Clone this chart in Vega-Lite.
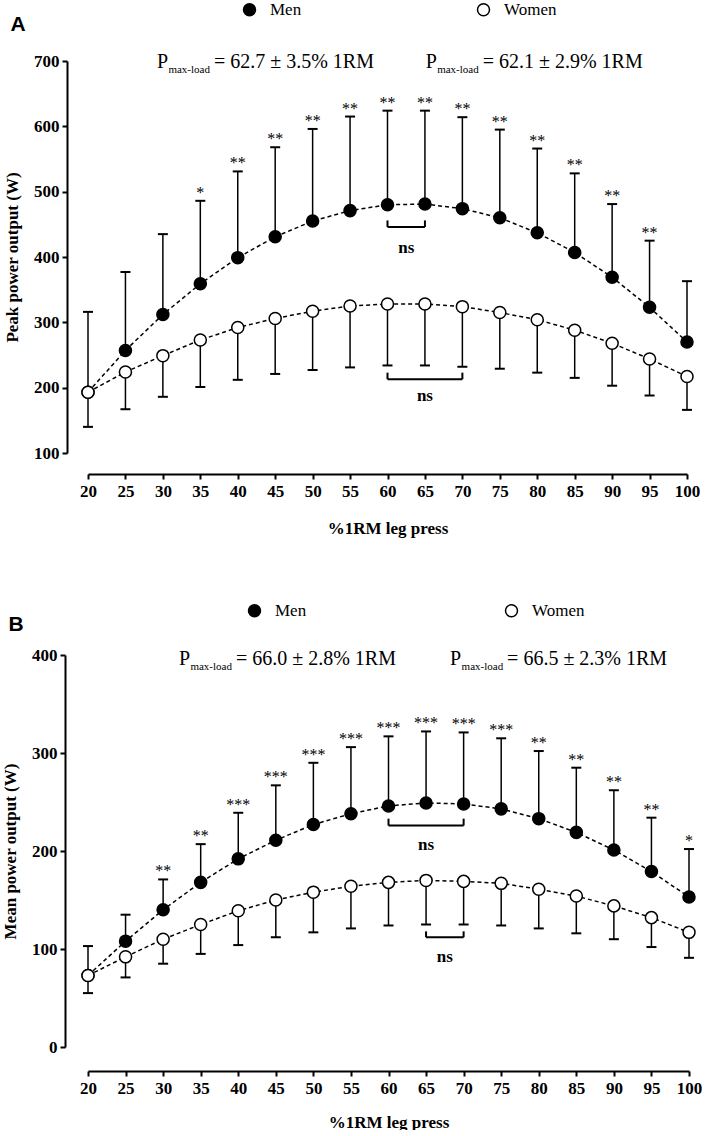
{
  "$schema": "https://vega.github.io/schema/vega-lite/v6.json",
  "padding": {"left": 1, "top": 1, "right": 0, "bottom": 0},
  "spacing": 66,
  "config": {
    "view": {"stroke": null},
    "font": "Liberation Serif",
    "axis": {
      "grid": false,
      "domainColor": "black",
      "domainWidth": 2,
      "tickColor": "black",
      "tickWidth": 2,
      "tickSize": 5,
      "labelFlush": false,
      "labelFont": "Liberation Serif",
      "labelFontSize": 17,
      "labelFontWeight": "bold",
      "labelColor": "black",
      "titleFont": "Liberation Serif",
      "titleFontSize": 17,
      "titleFontWeight": "bold",
      "titleColor": "black"
    },
    "legend": {
      "orient": "none",
      "direction": "horizontal",
      "title": null,
      "padding": 0,
      "labelFont": "Liberation Serif",
      "labelFontSize": 17,
      "labelColor": "black",
      "labelOffset": 12,
      "symbolType": "circle",
      "symbolSize": 144,
      "symbolStrokeColor": "black",
      "symbolStrokeWidth": 1.5
    },
    "title": {"font": "Liberation Sans", "fontSize": 21, "fontWeight": "bold", "color": "black", "anchor": "start", "frame": "bounds"}
  },
  "datasets": {
    "peak": [
      {"sex": "Men", "load": 20, "mean": 193, "cap": 316, "sig": ""},
      {"sex": "Men", "load": 25, "mean": 257, "cap": 377, "sig": ""},
      {"sex": "Men", "load": 30, "mean": 312, "cap": 435, "sig": ""},
      {"sex": "Men", "load": 35, "mean": 359, "cap": 486, "sig": "*"},
      {"sex": "Men", "load": 40, "mean": 399, "cap": 531, "sig": "**"},
      {"sex": "Men", "load": 45, "mean": 431, "cap": 568, "sig": "**"},
      {"sex": "Men", "load": 50, "mean": 455, "cap": 596, "sig": "**"},
      {"sex": "Men", "load": 55, "mean": 471, "cap": 615, "sig": "**"},
      {"sex": "Men", "load": 60, "mean": 480, "cap": 624, "sig": "**"},
      {"sex": "Men", "load": 65, "mean": 481, "cap": 624, "sig": "**"},
      {"sex": "Men", "load": 70, "mean": 474, "cap": 614, "sig": "**"},
      {"sex": "Men", "load": 75, "mean": 460, "cap": 595, "sig": "**"},
      {"sex": "Men", "load": 80, "mean": 437, "cap": 566, "sig": "**"},
      {"sex": "Men", "load": 85, "mean": 407, "cap": 528, "sig": "**"},
      {"sex": "Men", "load": 90, "mean": 369, "cap": 481, "sig": "**"},
      {"sex": "Men", "load": 95, "mean": 323, "cap": 425, "sig": "**"},
      {"sex": "Men", "load": 100, "mean": 270, "cap": 363, "sig": ""},
      {"sex": "Women", "load": 20, "mean": 193, "cap": 140, "sig": ""},
      {"sex": "Women", "load": 25, "mean": 224, "cap": 167, "sig": ""},
      {"sex": "Women", "load": 30, "mean": 249, "cap": 186, "sig": ""},
      {"sex": "Women", "load": 35, "mean": 273, "cap": 201, "sig": ""},
      {"sex": "Women", "load": 40, "mean": 292, "cap": 212, "sig": ""},
      {"sex": "Women", "load": 45, "mean": 306, "cap": 221, "sig": ""},
      {"sex": "Women", "load": 50, "mean": 317, "cap": 227, "sig": ""},
      {"sex": "Women", "load": 55, "mean": 325, "cap": 231, "sig": ""},
      {"sex": "Women", "load": 60, "mean": 328, "cap": 234, "sig": ""},
      {"sex": "Women", "load": 65, "mean": 328, "cap": 234, "sig": ""},
      {"sex": "Women", "load": 70, "mean": 324, "cap": 232, "sig": ""},
      {"sex": "Women", "load": 75, "mean": 315, "cap": 229, "sig": ""},
      {"sex": "Women", "load": 80, "mean": 304, "cap": 223, "sig": ""},
      {"sex": "Women", "load": 85, "mean": 288, "cap": 215, "sig": ""},
      {"sex": "Women", "load": 90, "mean": 268, "cap": 203, "sig": ""},
      {"sex": "Women", "load": 95, "mean": 244, "cap": 188, "sig": ""},
      {"sex": "Women", "load": 100, "mean": 217, "cap": 166, "sig": ""}
    ],
    "meanpow": [
      {"sex": "Men", "load": 20, "mean": 73, "cap": 103, "sig": ""},
      {"sex": "Men", "load": 25, "mean": 108, "cap": 135, "sig": ""},
      {"sex": "Men", "load": 30, "mean": 140, "cap": 171, "sig": "**"},
      {"sex": "Men", "load": 35, "mean": 168, "cap": 207, "sig": "**"},
      {"sex": "Men", "load": 40, "mean": 192, "cap": 239, "sig": "***"},
      {"sex": "Men", "load": 45, "mean": 211, "cap": 267, "sig": "***"},
      {"sex": "Men", "load": 50, "mean": 227, "cap": 290, "sig": "***"},
      {"sex": "Men", "load": 55, "mean": 238, "cap": 306, "sig": "***"},
      {"sex": "Men", "load": 60, "mean": 246, "cap": 317, "sig": "***"},
      {"sex": "Men", "load": 65, "mean": 249, "cap": 322, "sig": "***"},
      {"sex": "Men", "load": 70, "mean": 248, "cap": 321, "sig": "***"},
      {"sex": "Men", "load": 75, "mean": 243, "cap": 315, "sig": "***"},
      {"sex": "Men", "load": 80, "mean": 233, "cap": 302, "sig": "**"},
      {"sex": "Men", "load": 85, "mean": 219, "cap": 285, "sig": "**"},
      {"sex": "Men", "load": 90, "mean": 201, "cap": 262, "sig": "**"},
      {"sex": "Men", "load": 95, "mean": 179, "cap": 234, "sig": "**"},
      {"sex": "Men", "load": 100, "mean": 153, "cap": 202, "sig": "*"},
      {"sex": "Women", "load": 20, "mean": 73, "cap": 55, "sig": ""},
      {"sex": "Women", "load": 25, "mean": 92, "cap": 71, "sig": ""},
      {"sex": "Women", "load": 30, "mean": 110, "cap": 85, "sig": ""},
      {"sex": "Women", "load": 35, "mean": 125, "cap": 95, "sig": ""},
      {"sex": "Women", "load": 40, "mean": 139, "cap": 104, "sig": ""},
      {"sex": "Women", "load": 45, "mean": 150, "cap": 112, "sig": ""},
      {"sex": "Women", "load": 50, "mean": 158, "cap": 117, "sig": ""},
      {"sex": "Women", "load": 55, "mean": 164, "cap": 121, "sig": ""},
      {"sex": "Women", "load": 60, "mean": 168, "cap": 124, "sig": ""},
      {"sex": "Women", "load": 65, "mean": 170, "cap": 125, "sig": ""},
      {"sex": "Women", "load": 70, "mean": 169, "cap": 125, "sig": ""},
      {"sex": "Women", "load": 75, "mean": 167, "cap": 124, "sig": ""},
      {"sex": "Women", "load": 80, "mean": 161, "cap": 121, "sig": ""},
      {"sex": "Women", "load": 85, "mean": 154, "cap": 116, "sig": ""},
      {"sex": "Women", "load": 90, "mean": 144, "cap": 110, "sig": ""},
      {"sex": "Women", "load": 95, "mean": 132, "cap": 102, "sig": ""},
      {"sex": "Women", "load": 100, "mean": 117, "cap": 91, "sig": ""}
    ],
    "nsA": [
      {"sex": "Men", "from": 60, "to": 65, "level": 446, "tip": 456, "mid": 62.5, "labely": 414},
      {"sex": "Women", "from": 60, "to": 70, "level": 213, "tip": 223, "mid": 65, "labely": 187}
    ],
    "nsB": [
      {"sex": "Men", "from": 60, "to": 70, "level": 226, "tip": 233, "mid": 65, "labely": 206},
      {"sex": "Women", "from": 65, "to": 70, "level": 112, "tip": 118, "mid": 67.5, "labely": 92}
    ],
    "pA": [
      {"sex": "Men", "at": 29.2, "line": 690, "eq": "= 62.7 ± 3.5% 1RM"},
      {"sex": "Women", "at": 65.1, "line": 690, "eq": "= 62.1 ± 2.9% 1RM"}
    ],
    "pB": [
      {"sex": "Men", "at": 32.1, "line": 390, "eq": "= 66.0 ± 2.8% 1RM"},
      {"sex": "Women", "at": 68.2, "line": 390, "eq": "= 66.5 ± 2.3% 1RM"}
    ]
  },
  "vconcat": [
    {
      "width": 599,
      "height": 392,
      "title": {"text": "A", "dx": 7, "dy": 38},
      "data": {"name": "peak"},
      "encoding": {
        "x": {"field": "load", "type": "quantitative", "title": "%1RM leg press",
          "scale": {"domain": [20, 100]},
          "axis": {"values": [20, 25, 30, 35, 40, 45, 50, 55, 60, 65, 70, 75, 80, 85, 90, 95, 100], "offset": 21, "labelPadding": 4, "titlePadding": 21}},
        "y": {"field": "mean", "type": "quantitative", "title": "Peak power output (W)",
          "scale": {"domain": [100, 700]},
          "axis": {"values": [100, 200, 300, 400, 500, 600, 700], "offset": 21, "labelPadding": 3, "titlePadding": 12}}
      },
      "layer": [
        {"mark": {"type": "rule", "color": "black", "strokeWidth": 1.5},
          "encoding": {"y2": {"field": "cap"}}},
        {"mark": {"type": "tick", "orient": "horizontal", "color": "black", "size": 10, "thickness": 2, "opacity": 1},
          "encoding": {"y": {"field": "cap", "type": "quantitative", "title": "Peak power output (W)", "scale": {"domain": [100, 700]}}}},
        {"mark": {"type": "line", "color": "black", "strokeWidth": 1.5, "strokeDash": [4, 3]},
          "encoding": {"detail": {"field": "sex"}}},
        {"mark": {"type": "circle", "size": 145, "stroke": "black", "strokeWidth": 1.5, "opacity": 1},
          "encoding": {"fill": {"field": "sex", "type": "nominal",
            "scale": {"domain": ["Men", "Women"], "range": ["black", "white"]},
            "legend": {"legendX": 153, "legendY": -60, "columnPadding": 172}}}},
        {"transform": [{"filter": "datum.sex === 'Men'"}],
          "mark": {"type": "text", "baseline": "bottom", "fontSize": 16, "color": "black"},
          "encoding": {"y": {"field": "cap", "type": "quantitative", "title": "Peak power output (W)", "scale": {"domain": [100, 700]}}, "text": {"field": "sig"}}},
        {"data": {"name": "nsA"}, "mark": {"type": "rule", "color": "black", "strokeWidth": 2},
          "encoding": {"x": {"field": "from", "type": "quantitative", "title": "%1RM leg press", "scale": {"domain": [20, 100]}}, "x2": {"field": "to"},
            "y": {"field": "level", "type": "quantitative", "title": "Peak power output (W)", "scale": {"domain": [100, 700]}}}},
        {"data": {"name": "nsA"}, "mark": {"type": "rule", "color": "black", "strokeWidth": 2},
          "encoding": {"x": {"field": "from", "type": "quantitative", "title": "%1RM leg press", "scale": {"domain": [20, 100]}},
            "y": {"field": "level", "type": "quantitative", "title": "Peak power output (W)", "scale": {"domain": [100, 700]}}, "y2": {"field": "tip"}}},
        {"data": {"name": "nsA"}, "mark": {"type": "rule", "color": "black", "strokeWidth": 2},
          "encoding": {"x": {"field": "to", "type": "quantitative", "title": "%1RM leg press", "scale": {"domain": [20, 100]}},
            "y": {"field": "level", "type": "quantitative", "title": "Peak power output (W)", "scale": {"domain": [100, 700]}}, "y2": {"field": "tip"}}},
        {"data": {"name": "nsA"}, "mark": {"type": "text", "fontSize": 17, "fontWeight": "bold", "baseline": "middle", "color": "black"},
          "encoding": {"x": {"field": "mid", "type": "quantitative", "title": "%1RM leg press", "scale": {"domain": [20, 100]}},
            "y": {"field": "labely", "type": "quantitative", "title": "Peak power output (W)", "scale": {"domain": [100, 700]}}, "text": {"value": "ns"}}},
        {"data": {"name": "pA"}, "mark": {"type": "text", "fontSize": 20, "align": "left", "baseline": "alphabetic", "color": "black"},
          "encoding": {"x": {"field": "at", "type": "quantitative", "title": "%1RM leg press", "scale": {"domain": [20, 100]}},
            "y": {"field": "line", "type": "quantitative", "title": "Peak power output (W)", "scale": {"domain": [100, 700]}}, "text": {"value": "P"}}},
        {"data": {"name": "pA"}, "mark": {"type": "text", "fontSize": 11, "align": "left", "baseline": "alphabetic", "dx": 11.5, "dy": 5, "color": "black"},
          "encoding": {"x": {"field": "at", "type": "quantitative", "title": "%1RM leg press", "scale": {"domain": [20, 100]}},
            "y": {"field": "line", "type": "quantitative", "title": "Peak power output (W)", "scale": {"domain": [100, 700]}}, "text": {"value": "max-load"}}},
        {"data": {"name": "pA"}, "mark": {"type": "text", "fontSize": 20, "align": "left", "baseline": "alphabetic", "dx": 57, "color": "black"},
          "encoding": {"x": {"field": "at", "type": "quantitative", "title": "%1RM leg press", "scale": {"domain": [20, 100]}},
            "y": {"field": "line", "type": "quantitative", "title": "Peak power output (W)", "scale": {"domain": [100, 700]}}, "text": {"field": "eq"}}}
      ]
    },
    {
      "width": 601,
      "height": 392,
      "title": {"text": "B", "dx": 7, "dy": 37},
      "data": {"name": "meanpow"},
      "encoding": {
        "x": {"field": "load", "type": "quantitative", "title": "%1RM leg press",
          "scale": {"domain": [20, 100]},
          "axis": {"values": [20, 25, 30, 35, 40, 45, 50, 55, 60, 65, 70, 75, 80, 85, 90, 95, 100], "offset": 24, "labelPadding": 4, "titlePadding": 18}},
        "y": {"field": "mean", "type": "quantitative", "title": "Mean power output (W)",
          "scale": {"domain": [0, 400]},
          "axis": {"values": [0, 100, 200, 300, 400], "offset": 23, "labelPadding": 3, "titlePadding": 12}}
      },
      "layer": [
        {"mark": {"type": "rule", "color": "black", "strokeWidth": 1.5},
          "encoding": {"y2": {"field": "cap"}}},
        {"mark": {"type": "tick", "orient": "horizontal", "color": "black", "size": 10, "thickness": 2, "opacity": 1},
          "encoding": {"y": {"field": "cap", "type": "quantitative", "title": "Mean power output (W)", "scale": {"domain": [0, 400]}}}},
        {"mark": {"type": "line", "color": "black", "strokeWidth": 1.5, "strokeDash": [4, 3]},
          "encoding": {"detail": {"field": "sex"}}},
        {"mark": {"type": "circle", "size": 145, "stroke": "black", "strokeWidth": 1.5, "opacity": 1},
          "encoding": {"fill": {"field": "sex", "type": "nominal",
            "scale": {"domain": ["Men", "Women"], "range": ["black", "white"]},
            "legend": {"legendX": 158, "legendY": -53, "columnPadding": 195}}}},
        {"transform": [{"filter": "datum.sex === 'Men'"}],
          "mark": {"type": "text", "baseline": "bottom", "fontSize": 16, "color": "black"},
          "encoding": {"y": {"field": "cap", "type": "quantitative", "title": "Mean power output (W)", "scale": {"domain": [0, 400]}}, "text": {"field": "sig"}}},
        {"data": {"name": "nsB"}, "mark": {"type": "rule", "color": "black", "strokeWidth": 2},
          "encoding": {"x": {"field": "from", "type": "quantitative", "title": "%1RM leg press", "scale": {"domain": [20, 100]}}, "x2": {"field": "to"},
            "y": {"field": "level", "type": "quantitative", "title": "Mean power output (W)", "scale": {"domain": [0, 400]}}}},
        {"data": {"name": "nsB"}, "mark": {"type": "rule", "color": "black", "strokeWidth": 2},
          "encoding": {"x": {"field": "from", "type": "quantitative", "title": "%1RM leg press", "scale": {"domain": [20, 100]}},
            "y": {"field": "level", "type": "quantitative", "title": "Mean power output (W)", "scale": {"domain": [0, 400]}}, "y2": {"field": "tip"}}},
        {"data": {"name": "nsB"}, "mark": {"type": "rule", "color": "black", "strokeWidth": 2},
          "encoding": {"x": {"field": "to", "type": "quantitative", "title": "%1RM leg press", "scale": {"domain": [20, 100]}},
            "y": {"field": "level", "type": "quantitative", "title": "Mean power output (W)", "scale": {"domain": [0, 400]}}, "y2": {"field": "tip"}}},
        {"data": {"name": "nsB"}, "mark": {"type": "text", "fontSize": 17, "fontWeight": "bold", "baseline": "middle", "color": "black"},
          "encoding": {"x": {"field": "mid", "type": "quantitative", "title": "%1RM leg press", "scale": {"domain": [20, 100]}},
            "y": {"field": "labely", "type": "quantitative", "title": "Mean power output (W)", "scale": {"domain": [0, 400]}}, "text": {"value": "ns"}}},
        {"data": {"name": "pB"}, "mark": {"type": "text", "fontSize": 20, "align": "left", "baseline": "alphabetic", "color": "black"},
          "encoding": {"x": {"field": "at", "type": "quantitative", "title": "%1RM leg press", "scale": {"domain": [20, 100]}},
            "y": {"field": "line", "type": "quantitative", "title": "Mean power output (W)", "scale": {"domain": [0, 400]}}, "text": {"value": "P"}}},
        {"data": {"name": "pB"}, "mark": {"type": "text", "fontSize": 11, "align": "left", "baseline": "alphabetic", "dx": 11.5, "dy": 5, "color": "black"},
          "encoding": {"x": {"field": "at", "type": "quantitative", "title": "%1RM leg press", "scale": {"domain": [20, 100]}},
            "y": {"field": "line", "type": "quantitative", "title": "Mean power output (W)", "scale": {"domain": [0, 400]}}, "text": {"value": "max-load"}}},
        {"data": {"name": "pB"}, "mark": {"type": "text", "fontSize": 20, "align": "left", "baseline": "alphabetic", "dx": 57, "color": "black"},
          "encoding": {"x": {"field": "at", "type": "quantitative", "title": "%1RM leg press", "scale": {"domain": [20, 100]}},
            "y": {"field": "line", "type": "quantitative", "title": "Mean power output (W)", "scale": {"domain": [0, 400]}}, "text": {"field": "eq"}}}
      ]
    }
  ],
  "resolve": {"scale": {"x": "independent", "y": "independent", "fill": "independent"}, "legend": {"fill": "independent"}}
}
